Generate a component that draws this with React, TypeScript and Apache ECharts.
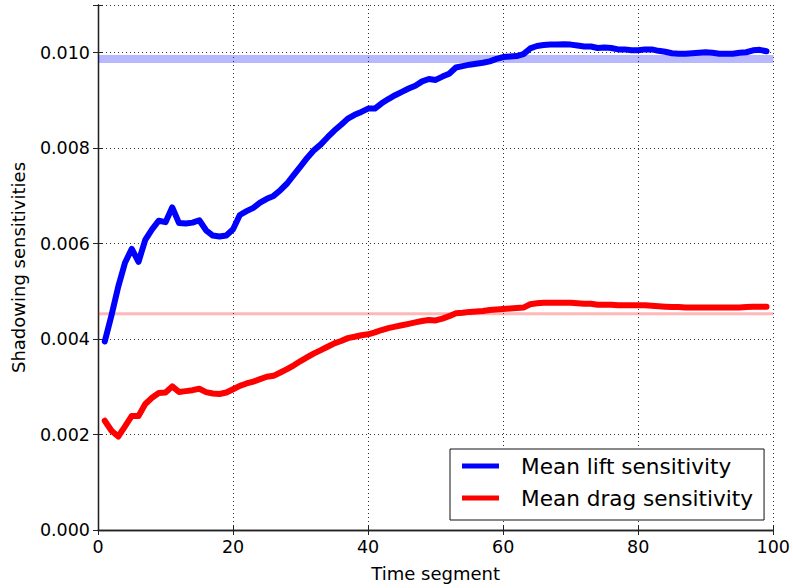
import React, { useEffect, useRef } from "react";
import * as echarts from "echarts";

const timeSegments: number[] = Array.from({ length: 99 }, (_, i) => i + 1);

const liftSensitivity: number[] = [
  0.00395, 0.0045, 0.0051, 0.0056, 0.00589, 0.00562, 0.00608, 0.0063, 0.00648, 0.00645,
  0.00676, 0.00643, 0.00642, 0.00644, 0.00649, 0.00628, 0.00617, 0.00615, 0.00617, 0.0063,
  0.0066, 0.00668, 0.00675, 0.00686, 0.00694, 0.007, 0.00712, 0.00726, 0.00744, 0.00762,
  0.0078, 0.00796, 0.00808, 0.00823, 0.00837, 0.00849, 0.00862, 0.0087, 0.00876, 0.00883,
  0.00883, 0.00894, 0.00903, 0.00911, 0.00918, 0.00925, 0.00931, 0.0094, 0.00945, 0.00943,
  0.0095, 0.00956, 0.00969, 0.00972, 0.00975, 0.00977, 0.00979, 0.00982, 0.00987, 0.00991,
  0.00992, 0.00993, 0.00997, 0.01009, 0.01014, 0.01016, 0.01017, 0.01017, 0.01018, 0.01017,
  0.01015, 0.01013, 0.01013, 0.0101, 0.01011, 0.0101, 0.01007, 0.01007, 0.01005, 0.01005,
  0.01007, 0.01007, 0.01004, 0.01002, 0.00999, 0.00998, 0.00998, 0.00999, 0.01, 0.01001,
  0.01, 0.00998, 0.00998, 0.00998, 0.01, 0.01001, 0.01005, 0.01006, 0.01003,
];

const dragSensitivity: number[] = [
  0.00229, 0.00208, 0.00196, 0.00217, 0.00239, 0.00239, 0.00264, 0.00277, 0.00287, 0.00288,
  0.00301, 0.00289, 0.00291, 0.00293, 0.00296, 0.00289, 0.00286, 0.00285, 0.00288, 0.00295,
  0.00302, 0.00307, 0.00311, 0.00316, 0.00321, 0.00323, 0.0033, 0.00337, 0.00345, 0.00354,
  0.00362, 0.0037, 0.00377, 0.00384, 0.00391, 0.00396, 0.00402, 0.00405, 0.00408, 0.0041,
  0.00414, 0.00419, 0.00423, 0.00426, 0.00429, 0.00432, 0.00435, 0.00438, 0.0044, 0.00439,
  0.00443, 0.00448, 0.00454, 0.00455, 0.00457, 0.00458, 0.00459, 0.00461, 0.00462, 0.00463,
  0.00464, 0.00465, 0.00466, 0.00473, 0.00475, 0.00476, 0.00476, 0.00476, 0.00476, 0.00476,
  0.00475, 0.00474, 0.00474, 0.00472, 0.00472, 0.00472, 0.00471, 0.00471, 0.00471, 0.00471,
  0.00471, 0.0047, 0.00469, 0.00468, 0.00467, 0.00467, 0.00466, 0.00466, 0.00466, 0.00466,
  0.00466, 0.00466, 0.00466, 0.00466, 0.00466, 0.00467, 0.00468, 0.00468, 0.00468,
];

const liftReference = 0.00987;
const dragReference = 0.00453;
const referenceSpan: number[] = [0, 100];

const xTicks = { min: 0, max: 100, interval: 20 };
const yTicks = { min: 0, max: 0.011, interval: 0.002 };

const FONT = "DejaVu Sans";

export default function App() {
  const ref = useRef<HTMLDivElement>(null);

  useEffect(() => {
    if (!ref.current) return;
    const chart = echarts.init(ref.current, null, { renderer: "svg" });
    const liftData = timeSegments.map((t, i) => [t, liftSensitivity[i]]);
    const dragData = timeSegments.map((t, i) => [t, dragSensitivity[i]]);
    const liftRefData = referenceSpan.map((t) => [t, liftReference]);
    const dragRefData = referenceSpan.map((t) => [t, dragReference]);
    const spine = { show: true, lineStyle: { color: "#222", width: 1.3 } };
    const tick = { show: true, inside: true, length: 5, lineStyle: { color: "#222", width: 1 } };

    chart.setOption({
      animation: false,
      backgroundColor: "#fff",
      grid: { left: 98, right: 17, top: 5, bottom: 58 },
      legend: {
        data: ["Mean lift sensitivity", "Mean drag sensitivity"],
        orient: "vertical",
        left: 450,
        top: 449,
        icon: "rect",
        itemWidth: 37,
        itemHeight: 5,
        itemGap: 8,
        padding: [5, 11, 10, 12],
        borderColor: "#111",
        borderWidth: 1,
        borderRadius: 0,
        backgroundColor: "#fff",
        textStyle: {
          fontFamily: FONT,
          fontSize: 21.6,
          color: "#000",
          lineHeight: 24,
          padding: [0, 0, 0, 17],
        },
      },
      xAxis: [
        {
          type: "value",
          min: xTicks.min,
          max: xTicks.max,
          interval: xTicks.interval,
          name: "Time segment",
          nameLocation: "middle",
          nameGap: 34,
          nameTextStyle: { fontFamily: FONT, fontSize: 18, color: "#000" },
          axisLine: spine,
          axisTick: tick,
          axisLabel: { fontFamily: FONT, fontSize: 17.5, color: "#000", margin: 8 },
          splitLine: { show: true, lineStyle: { color: "#333", type: [1, 3], width: 1 } },
        },
        {
          type: "value",
          position: "top",
          min: xTicks.min,
          max: xTicks.max,
          interval: xTicks.interval,
          axisLine: spine,
          axisTick: tick,
          axisLabel: { show: false },
          splitLine: { show: false },
        },
      ],
      yAxis: [
        {
          type: "value",
          min: yTicks.min,
          max: yTicks.max,
          interval: yTicks.interval,
          name: "Shadowing sensitivities",
          nameLocation: "middle",
          nameGap: 71,
          nameTextStyle: { fontFamily: FONT, fontSize: 18, color: "#000" },
          axisLine: spine,
          axisTick: tick,
          axisLabel: {
            fontFamily: FONT,
            fontSize: 17.5,
            color: "#000",
            margin: 8,
            formatter: (v: number) => (Math.abs(v - yTicks.max) < 1e-9 ? "" : v.toFixed(3)),
          },
          splitLine: { show: true, lineStyle: { color: "#333", type: [1, 3], width: 1 } },
        },
        {
          type: "value",
          position: "right",
          min: yTicks.min,
          max: yTicks.max,
          interval: yTicks.interval,
          axisLine: spine,
          axisTick: tick,
          axisLabel: { show: false },
          splitLine: { show: false },
        },
      ],
      series: [
        {
          name: "lift reference",
          type: "line",
          data: liftRefData,
          z: 1,
          silent: true,
          symbol: "none",
          showSymbol: false,
          lineStyle: { color: "rgba(0,0,255,0.28)", width: 8, cap: "butt" },
        },
        {
          name: "drag reference",
          type: "line",
          data: dragRefData,
          z: 1,
          silent: true,
          symbol: "none",
          showSymbol: false,
          lineStyle: { color: "rgba(255,0,0,0.28)", width: 3, cap: "butt" },
        },
        {
          name: "Mean lift sensitivity",
          type: "line",
          data: liftData,
          showSymbol: false,
          symbol: "none",
          z: 3,
          itemStyle: { color: "#0000ff" },
          lineStyle: { color: "#0000ff", width: 6, join: "round", cap: "round" },
        },
        {
          name: "Mean drag sensitivity",
          type: "line",
          data: dragData,
          showSymbol: false,
          symbol: "none",
          z: 3,
          itemStyle: { color: "#ff0000" },
          lineStyle: { color: "#ff0000", width: 6, join: "round", cap: "round" },
        },
      ],
    });
    return () => chart.dispose();
  }, []);

  return (
    <div
      ref={ref}
      style={{ position: "fixed", left: 0, top: 0, width: 793, height: 588, background: "#fff" }}
    />
  );
}
